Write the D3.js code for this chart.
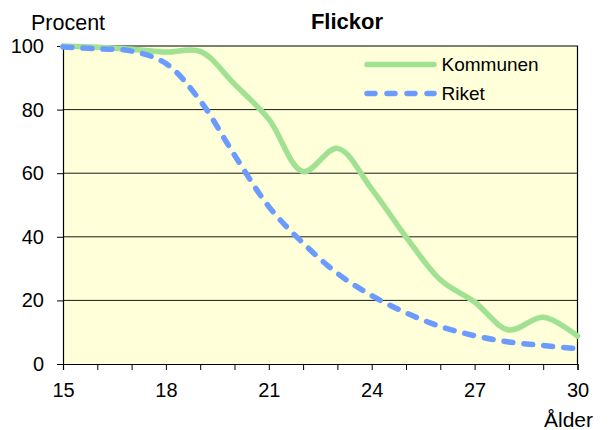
<!DOCTYPE html>
<html>
<head>
<meta charset="utf-8">
<script src="https://cdn.jsdelivr.net/npm/d3@7"></script>
<style>
  html, body { margin: 0; padding: 0; background: #ffffff; }
  svg { display: block; font-family: "Liberation Sans", Arial, sans-serif; }
</style>
</head>
<body>
<svg id="chart" width="610" height="430"></svg>
<script>
// ---- data ----
const ages = [15, 16, 17, 18, 19, 20, 21, 22, 23, 24, 25, 26, 27, 28, 29, 30];
const kommunen = [100, 99.6, 99.0, 98.1, 98.3, 88.0, 77.0, 60.5, 67.8, 55.0, 40.0, 26.5, 19.5, 10.7, 14.7, 8.8];
const riket = [99.7, 99.1, 98.4, 94.5, 82.8, 65.7, 49.5, 38.0, 28.5, 21.5, 16.1, 11.8, 8.9, 6.9, 5.8, 4.8];
const yTicks = [0, 20, 40, 60, 80, 100];
const xLabelTicks = [15, 18, 21, 24, 27, 30];
const seriesNames = ["Kommunen", "Riket"];
const titleText = "Flickor";
const yTitle = "Procent";
const xTitle = "Ålder";

// ---- layout ----
const svg = d3.select("#chart");
const pLeft = 63, pRight = 577.5, pTop = 46, pBottom = 364;
const x = d3.scaleLinear().domain([15, 30]).range([pLeft, pRight]);
const y = d3.scaleLinear().domain([0, 100]).range([pBottom, pTop]);

// plot background
svg.append("rect")
  .attr("x", pLeft).attr("y", pTop)
  .attr("width", pRight - pLeft).attr("height", pBottom - pTop)
  .attr("fill", "#ffffd9");

// gridlines
svg.append("g").selectAll("line")
  .data(yTicks.filter(d => d > 0 && d < 100))
  .join("line")
  .attr("x1", pLeft).attr("x2", pRight)
  .attr("y1", d => y(d)).attr("y2", d => y(d))
  .attr("stroke", "#1a1a1a").attr("stroke-width", 1);

// top and right border
svg.append("path")
  .attr("d", `M${pLeft},${pTop}H${pRight}V${pBottom}`)
  .attr("fill", "none").attr("stroke", "#000").attr("stroke-width", 1.2);

// axes
const yAxis = d3.axisLeft(y).tickValues(yTicks).tickSize(6).tickPadding(13).tickFormat(d3.format("d"));
const gy = svg.append("g").attr("transform", `translate(${pLeft},0)`).call(yAxis);
const xAxis = d3.axisBottom(x).tickValues(ages).tickSize(6).tickPadding(12.5)
  .tickFormat(d => xLabelTicks.includes(d) ? d : "");
const gx = svg.append("g").attr("transform", `translate(0,${pBottom})`).call(xAxis);

[gx, gy].forEach(g => {
  g.select(".domain").attr("stroke", "#000").attr("stroke-width", 1.2);
  g.selectAll(".tick line").attr("stroke", "#000").attr("stroke-width", 1);
  g.selectAll(".tick text")
    .attr("fill", "#000")
    .style("font-family", '"Liberation Sans", Arial, sans-serif')
    .style("font-size", "20px");
});

// lines
const line = d3.line().x((d, i) => x(ages[i])).y(d => y(d)).curve(d3.curveCatmullRom.alpha(0.5));

svg.append("path")
  .datum(kommunen)
  .attr("d", line)
  .attr("fill", "none")
  .attr("stroke", "#a0e292")
  .attr("stroke-width", 5.5)
  .attr("stroke-linecap", "round")
  .attr("stroke-linejoin", "round");

svg.append("path")
  .datum(riket)
  .attr("d", line)
  .attr("fill", "none")
  .attr("stroke", "#6b9bff")
  .attr("stroke-width", 5.5)
  .attr("stroke-dasharray", "9 11")
  .attr("stroke-linecap", "round");

// legend
const legend = svg.append("g");
const legendY = [64.5, 93.5];
legend.selectAll("line")
  .data(seriesNames)
  .join("line")
  .attr("x1", 367).attr("x2", 434)
  .attr("y1", (d, i) => legendY[i]).attr("y2", (d, i) => legendY[i])
  .attr("stroke", (d, i) => i === 0 ? "#a0e292" : "#6b9bff")
  .attr("stroke-width", 5.5)
  .attr("stroke-linecap", "round")
  .attr("stroke-dasharray", (d, i) => i === 0 ? null : "8 12");
legend.selectAll("text")
  .data(seriesNames)
  .join("text")
  .attr("x", 441.5)
  .attr("y", (d, i) => legendY[i] + 6.5)
  .style("font-size", "19px")
  .attr("fill", "#000")
  .text(d => d);

// titles
svg.append("text")
  .attr("x", 347).attr("y", 28.5)
  .attr("text-anchor", "middle")
  .style("font-size", "22px").style("font-weight", "bold")
  .text(titleText);

svg.append("text")
  .attr("x", 31).attr("y", 29.5)
  .style("font-size", "21.5px")
  .text(yTitle);

svg.append("text")
  .attr("x", 544).attr("y", 427)
  .style("font-size", "21px")
  .text(xTitle);
</script>
</body>
</html>
